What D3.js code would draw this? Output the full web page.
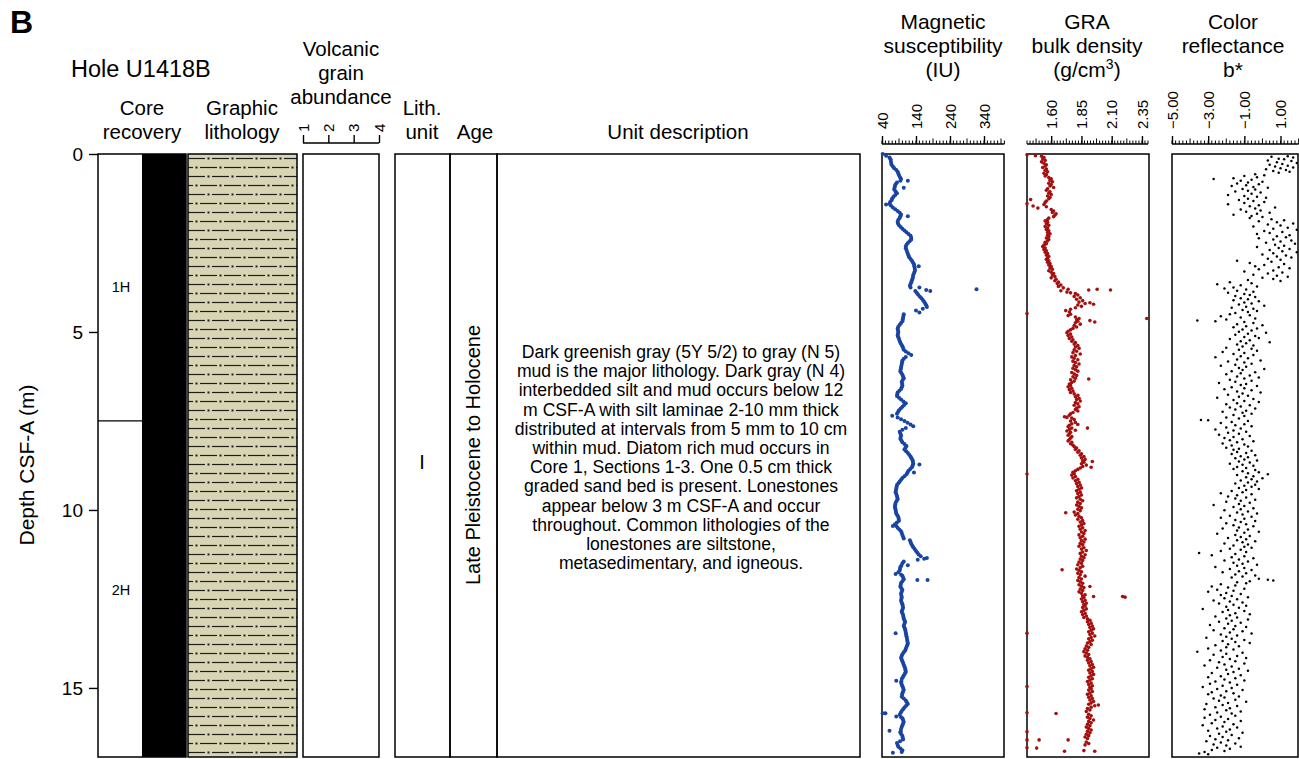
<!DOCTYPE html>
<html>
<head>
<meta charset="utf-8">
<script src="https://cdn.jsdelivr.net/npm/d3@7"></script>
<style>
  body { margin: 0; background: #fff; }
  svg { display: block; font-family: "Liberation Sans", Arial, Helvetica, sans-serif; }
</style>
</head>
<body>
<svg id="chart" width="1299" height="759"></svg>
<script>
// ---- data (depth in m CSF-A) ----
const holeName = "Hole U1418B";
const depthTicks = [0, 5, 10, 15];
const coreNames = ["1H", "2H"];
const coreTops = [0, 7.5];
const coreBottoms = [7.5, 17.0];
const volcanicTicks = [1, 2, 3, 4];
const lithUnit = "I";
const ageText = "Late Pleistocene to Holocene";
const unitDescription = [
  "Dark greenish gray (5Y 5/2) to gray (N 5)",
  "mud is the major lithology. Dark gray (N 4)",
  "interbedded silt and mud occurs below 12",
  "m CSF-A with silt laminae 2-10 mm thick",
  "distributed at intervals from 5 mm to 10 cm",
  "within mud. Diatom rich mud occurs in",
  "Core 1, Sections 1-3. One 0.5 cm thick",
  "graded sand bed is present. Lonestones",
  "appear below 3 m CSF-A and occur",
  "throughout. Common lithologies of the",
  "lonestones are siltstone,",
  "metasedimentary, and igneous."
];

const magTicks = [40, 140, 240, 340];
const graTicks = [1.60, 1.85, 2.10, 2.35];
const colorTicks = [-5, -3, -1, 1];

// magnetic susceptibility [depth, IU]
const magSus = [[0.00,42],[0.05,52],[0.10,62],[0.15,65],[0.20,66],[0.25,67],[0.30,68],[0.35,72],[0.40,76],[0.45,82],
[0.50,86],[0.55,88],[0.60,90],[0.65,93],[0.70,96],[0.75,116],[0.75,94],[0.80,84],[0.85,80],[0.90,78],[0.95,104],
[0.95,77],[1.00,76],[1.05,80],[1.10,84],[1.15,79],[1.20,74],[1.25,70],[1.30,68],[1.35,64],[1.40,62],[1.42,52],
[1.45,66],[1.50,72],[1.55,79],[1.60,86],[1.65,92],[1.70,96],[1.75,116],[1.75,94],[1.80,92],[1.85,88],[1.90,86],
[1.95,87],[2.00,90],[2.05,95],[2.10,100],[2.15,106],[2.20,112],[2.25,118],[2.30,124],[2.35,126],[2.40,126],[2.45,121],
[2.50,116],[2.55,112],[2.60,110],[2.65,110],[2.70,112],[2.75,114],[2.80,116],[2.85,118],[2.90,120],[2.95,124],
[3.00,128],[3.05,131],[3.10,134],[3.15,148],[3.15,135],[3.20,136],[3.25,137],[3.30,136],[3.35,134],[3.40,132],
[3.45,131],[3.50,130],[3.55,128],[3.60,126],[3.65,124],[3.70,122],[3.75,150],[3.75,124],[3.80,318],[3.82,170],
[3.85,182],[3.85,138],[3.90,142],[3.95,146],[4.00,151],[4.05,156],[4.10,160],[4.15,164],[4.20,167],[4.25,170],
[4.30,172],[4.35,160],[4.40,140],[4.45,150],[4.50,104],[4.55,103],[4.60,102],[4.65,101],[4.70,100],[4.75,96],
[4.80,92],[4.85,88],[4.90,86],[4.95,87],[5.00,88],[5.05,87],[5.10,86],[5.15,88],[5.20,90],[5.25,92],[5.30,94],
[5.35,97],[5.40,100],[5.45,102],[5.50,104],[5.55,110],[5.60,118],[5.65,126],[5.70,110],[5.75,104],[5.80,100],
[5.85,99],[5.90,98],[5.95,97],[6.00,96],[6.05,95],[6.10,94],[6.15,97],[6.20,100],[6.25,102],[6.30,104],[6.35,101],
[6.40,98],[6.45,99],[6.50,100],[6.55,98],[6.60,96],[6.65,91],[6.70,86],[6.75,85],[6.80,84],[6.85,90],[6.90,96],
[6.95,103],[7.00,110],[7.05,105],[7.10,100],[7.15,95],[7.20,90],[7.25,87],[7.30,84],[7.35,70],[7.40,86],[7.45,96],
[7.50,106],[7.55,115],[7.60,124],[7.65,132],[7.70,110],[7.75,100],[7.80,92],[7.85,94],[7.90,96],[7.95,95],[8.00,94],
[8.05,97],[8.10,100],[8.15,106],[8.20,112],[8.25,109],[8.30,106],[8.35,111],[8.40,116],[8.45,120],[8.50,124],
[8.55,127],[8.60,130],[8.65,131],[8.70,132],[8.72,150],[8.75,130],[8.80,128],[8.85,123],[8.90,118],[8.95,134],
[8.95,115],[9.00,112],[9.05,106],[9.10,100],[9.15,96],[9.20,92],[9.25,88],[9.30,84],[9.35,83],[9.40,82],[9.45,81],
[9.50,80],[9.55,82],[9.60,84],[9.65,85],[9.70,86],[9.75,83],[9.80,80],[9.85,79],[9.90,78],[9.95,79],[10.00,80],
[10.05,81],[10.10,82],[10.15,85],[10.20,88],[10.25,89],[10.30,90],[10.35,84],[10.40,78],[10.45,72],[10.45,82],
[10.50,86],[10.55,91],[10.60,96],[10.65,98],[10.70,100],[10.75,102],[10.80,104],[10.85,122],[10.90,124],[10.95,126],
[11.00,129],[11.05,132],[11.10,136],[11.15,140],[11.20,144],[11.25,148],[11.30,154],[11.35,172],[11.37,164],
[11.40,145],[11.45,104],[11.50,100],[11.55,116],[11.57,97],[11.60,94],[11.65,93],[11.70,92],[11.75,88],[11.80,80],
[11.82,96],[11.85,100],[11.90,102],[11.95,104],[11.97,144],[11.97,174],[12.00,100],[12.05,96],[12.10,95],[12.15,94],
[12.20,97],[12.25,100],[12.30,98],[12.35,96],[12.40,97],[12.45,98],[12.50,97],[12.55,96],[12.60,98],[12.65,100],
[12.70,101],[12.75,102],[12.80,100],[12.85,98],[12.90,100],[12.95,102],[13.00,103],[13.05,104],[13.10,106],
[13.15,108],[13.20,106],[13.25,104],[13.30,106],[13.35,108],[13.40,109],[13.45,110],[13.46,80],[13.50,111],
[13.55,112],[13.60,113],[13.65,114],[13.70,115],[13.75,116],[13.80,114],[13.85,112],[13.90,110],[13.95,108],
[14.00,104],[14.05,100],[14.10,98],[14.15,96],[14.20,98],[14.25,100],[14.30,102],[14.35,104],[14.40,106],[14.45,108],
[14.50,109],[14.55,110],[14.60,107],[14.65,104],[14.70,101],[14.75,98],[14.80,82],[14.82,97],[14.85,96],[14.90,98],
[14.95,100],[15.00,102],[15.05,104],[15.10,102],[15.15,100],[15.20,99],[15.25,98],[15.30,104],[15.35,110],[15.40,113],
[15.45,116],[15.50,111],[15.55,106],[15.60,102],[15.65,98],[15.70,95],[15.71,50],[15.71,42],[15.75,92],[15.80,82],
[15.82,96],[15.85,100],[15.90,102],[15.95,104],[16.00,102],[16.05,100],[16.10,98],[16.15,96],[16.20,62],[16.22,95],
[16.25,94],[16.30,97],[16.35,100],[16.40,101],[16.45,102],[16.50,93],[16.55,84],[16.60,86],[16.65,88],[16.70,94],
[16.75,100],[16.80,98],[16.82,72]];

// GRA bulk density [depth, g/cm3]
const graDensity = [[0.02,1.40],[0.05,1.47],[0.06,1.52],[0.10,1.54],[0.14,1.53],[0.18,1.55],[0.22,1.52],[0.26,1.54],
[0.30,1.56],[0.34,1.55],[0.38,1.53],[0.42,1.56],[0.46,1.55],[0.50,1.57],[0.54,1.54],[0.58,1.56],[0.62,1.55],[0.66,1.58],
[0.70,1.60],[0.74,1.59],[0.78,1.61],[0.82,1.58],[0.86,1.60],[0.90,1.59],[0.94,1.62],[0.98,1.57],[1.02,1.56],[1.06,1.59],
[1.10,1.58],[1.14,1.60],[1.18,1.57],[1.22,1.59],[1.26,1.58],[1.28,1.43],[1.32,1.56],[1.36,1.55],[1.40,1.40],[1.42,1.54],
[1.46,1.45],[1.48,1.56],[1.52,1.49],[1.56,1.60],[1.60,1.62],[1.64,1.61],[1.68,1.64],[1.72,1.63],[1.76,1.62],[1.80,1.58],
[1.84,1.57],[1.88,1.55],[1.92,1.57],[1.96,1.56],[2.00,1.58],[2.04,1.55],[2.08,1.57],[2.12,1.56],[2.16,1.58],[2.20,1.57],
[2.24,1.59],[2.28,1.57],[2.32,1.58],[2.36,1.56],[2.40,1.58],[2.44,1.57],[2.48,1.55],[2.52,1.56],[2.56,1.54],[2.60,1.53],
[2.64,1.55],[2.68,1.54],[2.72,1.56],[2.76,1.55],[2.80,1.57],[2.84,1.56],[2.88,1.58],[2.92,1.57],[2.96,1.56],[3.00,1.58],
[3.04,1.57],[3.08,1.59],[3.12,1.58],[3.16,1.60],[3.20,1.59],[3.24,1.61],[3.28,1.58],[3.32,1.60],[3.36,1.62],[3.40,1.61],
[3.44,1.63],[3.48,1.60],[3.52,1.64],[3.56,1.63],[3.60,1.66],[3.64,1.65],[3.68,1.68],[3.72,1.66],[3.76,1.70],[3.80,1.74],
[3.82,1.91],[3.80,1.98],[3.82,2.09],[3.84,1.68],[3.88,1.73],[3.90,1.76],[3.92,1.80],[3.96,1.82],[4.00,1.79],[4.04,1.84],
[4.08,1.81],[4.12,1.86],[4.16,1.83],[4.18,1.92],[4.20,1.88],[4.22,1.95],[4.24,1.82],[4.28,1.85],[4.32,1.80],[4.36,1.76],
[4.40,1.72],[4.44,1.75],[4.48,1.40],[4.50,1.76],[4.54,1.74],[4.58,1.80],[4.62,1.83],[4.62,2.39],[4.66,1.81],[4.68,1.92],
[4.70,1.82],[4.72,1.96],[4.74,1.80],[4.78,1.84],[4.82,1.79],[4.86,1.81],[4.90,1.78],[4.94,1.76],[4.98,1.74],[5.02,1.73],
[5.06,1.76],[5.10,1.74],[5.14,1.77],[5.18,1.75],[5.22,1.78],[5.26,1.77],[5.30,1.80],[5.34,1.79],[5.38,1.82],[5.42,1.80],
[5.46,1.83],[5.50,1.79],[5.54,1.81],[5.58,1.78],[5.62,1.84],[5.66,1.80],[5.70,1.77],[5.74,1.79],[5.78,1.82],[5.82,1.78],
[5.86,1.80],[5.90,1.83],[5.94,1.79],[5.98,1.81],[6.02,1.78],[6.06,1.80],[6.10,1.82],[6.14,1.77],[6.18,1.79],[6.22,1.81],
[6.26,1.78],[6.30,1.80],[6.32,1.91],[6.34,1.76],[6.38,1.79],[6.42,1.77],[6.46,1.75],[6.50,1.76],[6.54,1.74],[6.58,1.77],
[6.62,1.75],[6.66,1.78],[6.70,1.76],[6.74,1.79],[6.78,1.82],[6.82,1.80],[6.86,1.83],[6.90,1.81],[6.94,1.84],[6.98,1.80],
[7.02,1.82],[7.06,1.79],[7.10,1.83],[7.14,1.81],[7.18,1.80],[7.22,1.82],[7.26,1.78],[7.30,1.76],[7.34,1.75],[7.38,1.71],
[7.40,1.73],[7.42,1.77],[7.46,1.79],[7.50,1.76],[7.54,1.80],[7.58,1.77],[7.60,1.82],[7.62,1.75],[7.66,1.74],[7.70,1.77],
[7.70,1.90],[7.74,1.75],[7.76,1.80],[7.78,1.73],[7.82,1.76],[7.86,1.75],[7.90,1.74],[7.94,1.77],[7.98,1.76],[8.02,1.75],
[8.06,1.74],[8.10,1.77],[8.14,1.76],[8.18,1.78],[8.22,1.79],[8.26,1.81],[8.30,1.80],[8.34,1.83],[8.38,1.82],[8.42,1.85],
[8.46,1.84],[8.50,1.87],[8.54,1.85],[8.58,1.88],[8.62,1.86],[8.64,1.94],[8.66,1.87],[8.70,1.85],[8.74,1.89],[8.78,1.86],
[8.80,1.93],[8.82,1.84],[8.86,1.82],[8.90,1.80],[8.94,1.78],[8.98,1.79],[8.99,1.40],[9.02,1.77],[9.06,1.80],[9.10,1.78],
[9.14,1.82],[9.18,1.80],[9.22,1.83],[9.26,1.81],[9.30,1.84],[9.34,1.82],[9.38,1.85],[9.42,1.83],[9.46,1.81],[9.50,1.84],
[9.54,1.82],[9.58,1.85],[9.62,1.83],[9.66,1.81],[9.70,1.84],[9.74,1.86],[9.78,1.82],[9.82,1.84],[9.86,1.81],[9.90,1.83],
[9.94,1.85],[9.98,1.82],[10.02,1.84],[10.06,1.79],[10.08,1.72],[10.10,1.82],[10.14,1.80],[10.18,1.83],[10.22,1.85],
[10.26,1.82],[10.30,1.86],[10.34,1.84],[10.38,1.87],[10.42,1.85],[10.46,1.83],[10.50,1.86],[10.54,1.84],[10.58,1.88],
[10.62,1.85],[10.66,1.87],[10.70,1.83],[10.74,1.86],[10.78,1.84],[10.82,1.88],[10.86,1.85],[10.90,1.87],[10.94,1.84],
[10.98,1.86],[11.02,1.83],[11.06,1.87],[11.10,1.85],[11.14,1.89],[11.18,1.86],[11.22,1.84],[11.26,1.88],[11.30,1.85],
[11.34,1.87],[11.38,1.84],[11.42,1.86],[11.46,1.83],[11.50,1.85],[11.54,1.82],[11.58,1.86],[11.62,1.84],[11.66,1.81],
[11.68,1.69],[11.70,1.83],[11.74,1.85],[11.78,1.82],[11.82,1.84],[11.86,1.88],[11.90,1.83],[11.94,1.85],[11.98,1.82],
[12.02,1.84],[12.06,1.86],[12.10,1.83],[12.14,1.85],[12.15,1.92],[12.18,1.87],[12.22,1.84],[12.26,1.86],[12.30,1.83],
[12.34,1.85],[12.38,1.88],[12.42,1.86],[12.43,1.95],[12.43,2.19],[12.45,2.21],[12.46,1.87],[12.50,1.85],[12.54,1.88],
[12.58,1.86],[12.62,1.89],[12.66,1.87],[12.70,1.88],[12.74,1.86],[12.78,1.89],[12.82,1.87],[12.86,1.85],[12.90,1.88],
[12.94,1.86],[12.98,1.89],[13.02,1.87],[13.06,1.90],[13.10,1.92],[13.14,1.90],[13.18,1.93],[13.22,1.91],[13.26,1.94],
[13.30,1.92],[13.34,1.95],[13.38,1.93],[13.42,1.91],[13.46,1.40],[13.46,1.94],[13.50,1.92],[13.54,1.96],[13.58,1.93],
[13.62,1.91],[13.66,1.94],[13.70,1.92],[13.74,1.90],[13.78,1.93],[13.82,1.89],[13.86,1.91],[13.90,1.88],[13.94,1.90],
[13.98,1.87],[14.02,1.89],[14.06,1.91],[14.10,1.88],[14.14,1.90],[14.18,1.92],[14.22,1.90],[14.26,1.93],[14.30,1.91],
[14.34,1.94],[14.38,1.92],[14.42,1.95],[14.46,1.93],[14.50,1.91],[14.54,1.94],[14.58,1.92],[14.62,1.95],[14.66,1.93],
[14.70,1.91],[14.74,1.94],[14.78,1.92],[14.82,1.90],[14.86,1.93],[14.90,1.91],[14.94,1.94],[14.96,1.40],[14.98,1.92],
[15.02,1.93],[15.06,1.91],[15.10,1.94],[15.14,1.92],[15.18,1.90],[15.22,1.93],[15.26,1.91],[15.30,1.94],[15.34,1.92],
[15.38,1.95],[15.42,1.93],[15.46,1.91],[15.48,1.99],[15.50,1.96],[15.54,1.93],[15.58,1.90],[15.62,1.92],[15.66,1.89],
[15.70,1.40],[15.72,1.64],[15.74,1.91],[15.78,1.93],[15.82,1.90],[15.86,1.92],[15.90,1.95],[15.94,1.91],[15.98,1.93],
[16.02,1.90],[16.06,1.92],[16.10,1.89],[16.14,1.91],[16.18,1.93],[16.22,1.90],[16.23,1.40],[16.26,1.92],[16.30,1.89],
[16.34,1.91],[16.38,1.88],[16.42,1.90],[16.46,1.40],[16.46,1.50],[16.46,1.74],[16.52,1.89],[16.56,1.91],[16.60,1.88],
[16.68,1.40],[16.69,1.48],[16.78,1.71],[16.76,1.87],[16.78,1.96]];

// color reflectance b* [depth, b*]
const colorB = [[0.06,1.4],[0.08,0.5],[0.10,1.7],[0.13,0.9],[0.15,1.2],[0.18,0.3],[0.20,1.6],[0.23,0.8],[0.25,1.9],
[0.28,1.1],[0.30,0.4],[0.33,1.4],[0.35,0.7],[0.38,1.7],[0.40,1.0],[0.43,0.2],[0.45,1.3],[0.48,0.6],[0.50,1.5],[0.53,0.9],
[0.57,-0.4],[0.60,0.1],[0.62,-1.0],[0.65,-0.3],[0.68,-1.6],[0.70,-2.7],[0.72,-0.6],[0.75,-1.2],[0.78,0.0],[0.80,-0.8],
[0.83,-1.4],[0.85,-0.2],[0.88,-0.9],[0.90,-1.7],[0.93,-0.5],[0.95,0.3],[0.98,-1.1],[1.00,-0.4],[1.03,-0.8],[1.05,-1.5],
[1.08,-0.1],[1.12,-0.6],[1.15,-1.9],[1.18,-1.0],[1.20,-0.3],[1.23,0.2],[1.26,-0.8],[1.29,-1.3],[1.32,-0.5],[1.35,0.1],
[1.38,-1.0],[1.41,-1.9],[1.44,-0.2],[1.47,-0.7],[1.50,0.7],[1.53,-0.4],[1.56,-1.2],[1.59,-0.1],[1.62,-0.9],[1.65,0.4],
[1.68,-0.3],[1.71,-1.6],[1.74,-0.6],[1.77,0.0],[1.80,-0.7],[1.83,0.5],[1.86,1.2],[1.89,-0.2],[1.92,0.8],[1.95,1.7],
[1.98,0.3],[2.01,1.0],[2.04,-0.5],[2.07,1.4],[2.10,0.6],[2.13,1.9],[2.16,0.1],[2.19,1.1],[2.22,0.4],[2.25,-0.3],[2.28,1.5],
[2.31,0.8],[2.34,1.3],[2.37,-0.2],[2.40,0.6],[2.43,1.6],[2.46,1.0],[2.49,0.2],[2.52,1.8],[2.55,0.7],[2.58,1.2],[2.61,-0.3],
[2.64,0.9],[2.67,1.5],[2.70,0.4],[2.73,1.1],[2.76,1.9],[2.79,0.6],[2.82,0.0],[2.85,1.3],[2.88,0.8],[2.91,1.6],[2.94,0.3],
[2.97,1.0],[3.00,-1.4],[3.03,0.5],[3.06,-0.7],[3.09,1.2],[3.12,0.1],[3.15,-0.4],[3.18,0.9],[3.21,1.5],[3.24,-0.2],
[3.27,0.6],[3.30,-1.0],[3.33,1.1],[3.36,0.3],[3.39,-0.5],[3.42,0.8],[3.45,1.4],[3.48,0.0],[3.51,0.6],[3.54,-0.8],[3.57,1.0],
[3.60,-1.8],[3.63,-0.6],[3.66,-2.5],[3.69,-1.2],[3.72,-0.3],[3.75,-1.6],[3.78,-2.1],[3.81,-0.9],[3.84,-1.4],[3.87,-0.5],
[3.90,-1.9],[3.93,-1.0],[3.96,-0.7],[3.99,-1.5],[4.02,-0.4],[4.05,-1.2],[4.08,-0.8],[4.11,-1.6],[4.14,-0.2],[4.17,-1.0],
[4.20,-0.6],[4.23,-1.3],[4.26,0.1],[4.29,-0.9],[4.32,-1.7],[4.35,-0.5],[4.38,-1.1],[4.41,-0.3],[4.44,-0.8],[4.47,-1.5],
[4.50,-1.8],[4.53,-0.7],[4.56,-2.3],[4.59,-1.2],[4.62,-0.4],[4.65,-2.0],[4.68,-3.6],[4.70,-2.6],[4.72,-1.0],[4.75,-0.5],
[4.78,-1.4],[4.81,0.0],[4.84,-0.9],[4.87,-1.6],[4.90,-0.3],[4.93,-1.1],[4.96,-0.6],[4.99,-1.3],[5.02,0.2],[5.05,-0.8],
[5.08,-1.5],[5.11,-0.4],[5.14,-1.0],[5.17,-0.2],[5.20,-1.8],[5.23,-0.7],[5.26,-1.2],[5.29,0.4],[5.32,-0.9],[5.35,-1.4],
[5.38,-0.5],[5.41,-1.1],[5.44,-2.0],[5.47,-0.6],[5.50,-1.3],[5.53,-0.3],[5.56,-2.2],[5.59,-1.0],[5.62,-1.6],[5.65,-0.5],
[5.68,-1.2],[5.71,-2.6],[5.74,-0.8],[5.77,-1.4],[5.80,-0.1],[5.83,-1.9],[5.86,-1.0],[5.89,-0.6],[5.92,-1.5],[5.95,-2.3],
[5.98,-0.9],[6.01,-1.3],[6.04,0.1],[6.07,-1.1],[6.10,-1.7],[6.13,-0.4],[6.16,-1.2],[6.19,-2.0],[6.22,-0.7],[6.25,-1.4],
[6.28,-0.2],[6.31,-1.0],[6.34,-1.8],[6.37,-0.6],[6.40,-1.5],[6.43,-2.4],[6.46,-0.9],[6.49,-1.2],[6.52,-0.3],[6.55,-1.7],
[6.58,-1.0],[6.61,-2.1],[6.64,-0.6],[6.67,-1.4],[6.70,-0.1],[6.73,-1.1],[6.76,-1.9],[6.79,-0.8],[6.82,-1.3],[6.85,-2.5],
[6.88,-0.5],[6.91,-1.6],[6.94,-1.0],[6.97,-0.2],[7.00,-1.4],[7.03,-2.0],[7.06,-0.7],[7.09,-1.2],[7.12,-1.8],[7.15,-0.4],
[7.18,-1.5],[7.21,-0.9],[7.24,-2.2],[7.27,-1.1],[7.30,-0.6],[7.33,-1.6],[7.36,-1.0],[7.40,-2.0],[7.43,-1.3],[7.47,-3.4],
[7.48,-3.0],[7.50,-0.8],[7.53,-1.7],[7.56,-2.3],[7.59,-1.0],[7.62,-1.5],[7.65,-0.6],[7.68,-2.0],[7.71,-1.2],[7.74,-2.6],
[7.77,-1.6],[7.80,-0.9],[7.83,-1.9],[7.86,-1.3],[7.89,-2.4],[7.92,-0.7],[7.95,-1.6],[7.98,-2.1],[8.01,-1.1],[8.04,-1.8],
[8.07,-0.5],[8.10,-1.4],[8.13,-2.2],[8.16,-1.0],[8.19,-1.7],[8.22,-0.8],[8.25,-2.0],[8.28,-1.3],[8.31,-1.6],[8.34,-0.6],
[8.37,-1.4],[8.40,-0.9],[8.43,-1.7],[8.46,-0.4],[8.49,-1.2],[8.52,-0.8],[8.55,-1.5],[8.58,-1.0],[8.61,-0.3],[8.64,-1.3],
[8.67,-0.7],[8.70,-1.8],[8.73,-1.1],[8.76,-0.5],[8.79,-1.4],[8.82,-0.9],[8.85,-1.6],[8.88,-0.4],[8.91,-1.1],[8.94,-0.2],
[8.97,-0.8],[9.00,0.3],[9.02,-1.4],[9.05,-0.5],[9.08,-0.9],[9.11,0.0],[9.14,-0.6],[9.17,-1.2],[9.20,-0.3],[9.23,-0.8],
[9.26,-1.5],[9.29,-0.4],[9.32,-1.0],[9.35,-0.6],[9.38,-1.3],[9.41,-0.2],[9.44,-0.9],[9.47,-1.7],[9.50,-1.1],[9.53,-2.3],
[9.56,-0.6],[9.59,-1.4],[9.62,-1.9],[9.65,-0.9],[9.68,-1.5],[9.71,-0.4],[9.74,-1.2],[9.77,-2.0],[9.80,-0.7],[9.83,-1.3],
[9.86,-2.7],[9.89,-1.0],[9.92,-1.6],[9.95,-0.5],[9.98,-1.2],[10.01,-2.1],[10.04,-0.8],[10.07,-1.4],[10.10,-0.3],
[10.13,-1.1],[10.16,-1.8],[10.19,-0.6],[10.22,-2.3],[10.25,-1.0],[10.28,-1.5],[10.31,-0.4],[10.34,-1.2],[10.37,-2.0],
[10.40,-0.9],[10.43,-1.6],[10.46,-0.5],[10.49,-1.3],[10.52,-2.2],[10.55,-0.8],[10.58,-1.4],[10.61,-0.2],[10.64,-1.0],
[10.67,-2.5],[10.70,-1.5],[10.73,-0.7],[10.76,-1.2],[10.79,-1.9],[10.82,-0.9],[10.85,-1.4],[10.88,-0.4],[10.91,-1.1],
[10.94,-2.1],[10.97,-0.8],[11.00,-1.6],[11.03,-1.0],[11.06,-0.6],[11.09,-1.8],[11.12,-1.2],[11.15,-2.3],[11.18,-0.9],
[11.21,-3.5],[11.24,-1.5],[11.27,-2.8],[11.30,-1.0],[11.33,-1.7],[11.36,-0.5],[11.39,-1.3],[11.42,-2.1],[11.45,-0.8],
[11.48,-1.6],[11.51,-1.1],[11.54,-0.3],[11.57,-1.4],[11.60,-2.6],[11.63,-1.0],[11.66,-1.8],[11.69,-0.6],[11.72,-1.3],
[11.75,-2.2],[11.78,-0.9],[11.81,-1.5],[11.84,-0.4],[11.87,-1.1],[11.90,-1.7],[11.93,-0.2],[11.96,0.3],[11.98,0.6],
[12.00,-0.7],[12.03,-1.4],[12.06,-0.9],[12.09,-2.3],[12.12,-1.5],[12.15,-2.8],[12.18,-1.9],[12.21,-1.0],[12.24,-2.5],
[12.27,-1.6],[12.30,-3.0],[12.33,-2.0],[12.36,-1.2],[12.39,-2.3],[12.42,-1.7],[12.45,-0.8],[12.48,-2.1],[12.51,-1.4],
[12.54,-2.7],[12.57,-1.8],[12.60,-1.1],[12.63,-2.4],[12.66,-1.6],[12.69,-0.9],[12.72,-2.0],[12.75,-1.3],[12.78,-3.3],
[12.81,-1.9],[12.84,-1.0],[12.87,-2.2],[12.90,-1.5],[12.93,-0.7],[12.96,-1.8],[12.99,-2.6],[13.02,-1.4],[13.05,-2.0],
[13.08,-0.8],[13.11,-1.7],[13.14,-2.4],[13.17,-1.2],[13.20,-1.9],[13.23,-2.9],[13.26,-1.5],[13.29,-0.9],[13.32,-2.1],
[13.35,-1.6],[13.38,-2.7],[13.41,-1.1],[13.44,-1.8],[13.47,-0.6],[13.50,-2.3],[13.53,-1.4],[13.56,-2.0],[13.59,-3.1],
[13.62,-1.7],[13.65,-1.0],[13.68,-2.2],[13.71,-1.5],[13.74,-0.7],[13.77,-1.9],[13.80,-2.6],[13.83,-1.3],[13.86,-2.0],
[13.89,-3.0],[13.92,-1.6],[13.95,-2.3],[13.98,-3.6],[14.01,-1.1],[14.04,-2.0],[14.07,-2.7],[14.10,-1.4],[14.13,-2.2],
[14.16,-0.9],[14.19,-1.8],[14.22,-2.9],[14.25,-1.5],[14.28,-2.4],[14.31,-1.0],[14.34,-2.1],[14.37,-3.2],[14.40,-1.7],
[14.43,-2.5],[14.46,-1.3],[14.49,-2.0],[14.52,-0.8],[14.55,-1.6],[14.58,-2.8],[14.61,-1.9],[14.64,-1.2],[14.67,-2.3],
[14.70,-3.0],[14.73,-1.5],[14.76,-2.1],[14.79,-1.0],[14.82,-2.6],[14.85,-1.8],[14.88,-2.9],[14.91,-1.4],[14.94,-2.2],
[14.97,-3.3],[15.00,-1.7],[15.03,-2.5],[15.06,-1.1],[15.09,-2.0],[15.12,-2.8],[15.15,-1.6],[15.18,-3.0],[15.21,-2.3],
[15.24,-1.3],[15.27,-2.1],[15.30,-2.7],[15.33,-1.5],[15.36,-2.4],[15.39,-0.9],[15.42,-1.9],[15.45,-3.1],[15.48,-2.2],
[15.51,-1.4],[15.54,-2.6],[15.57,-1.8],[15.60,-3.2],[15.63,-2.0],[15.66,-1.2],[15.69,-2.5],[15.72,-1.7],[15.75,-2.9],
[15.78,-1.5],[15.81,-2.3],[15.84,-3.2],[15.87,-1.9],[15.90,-2.6],[15.93,-1.2],[15.96,-2.1],[15.99,-2.8],[16.02,-1.6],
[16.05,-3.3],[16.08,-2.2],[16.11,-1.4],[16.14,-2.5],[16.17,-1.8],[16.20,-3.0],[16.23,-2.0],[16.26,-1.1],[16.29,-2.4],
[16.32,-1.7],[16.35,-2.9],[16.38,-2.2],[16.41,-1.3],[16.44,-2.6],[16.47,-1.9],[16.50,-3.1],[16.53,-2.3],[16.56,-1.5],
[16.59,-2.7],[16.62,-2.0],[16.65,-1.2],[16.68,-2.5],[16.71,-1.8],[16.74,-2.8],[16.77,-2.1],[16.80,-3.2],[16.84,-3.5],
[16.86,-3.0]];

// ---- drawing ----
const svg = d3.select("#chart");
const yTop = 154, yBot = 757;
const y = d3.scaleLinear().domain([0, 16.94]).range([yTop, yBot]);

const xMag = d3.scaleLinear().domain([40, 400]).range([882, 1004.4]);
const xGra = d3.scaleLinear().domain([1.4, 2.4]).range([1027, 1148]);
const xCol = d3.scaleLinear().domain([-5, 2]).range([1172, 1298.6]);
const xVol = d3.scaleLinear().domain([1, 4]).range([303, 379]);

// lithology pattern (silty mud: dashes and dots)
const defs = svg.append("defs");
const pat = defs.append("pattern").attr("id", "mud").attr("patternUnits", "userSpaceOnUse")
  .attr("x", 188).attr("y", yTop).attr("width", 24).attr("height", 18);
pat.append("rect").attr("width", 24).attr("height", 18).attr("fill", "#d7d5b3");
pat.append("line").attr("x1", 0).attr("x2", 17).attr("y1", 4.5).attr("y2", 4.5);
pat.append("rect").attr("x", 19.5).attr("y", 3.5).attr("width", 2).attr("height", 2);
pat.append("line").attr("x1", 12).attr("x2", 24).attr("y1", 13.5).attr("y2", 13.5);
pat.append("line").attr("x1", 0).attr("x2", 5).attr("y1", 13.5).attr("y2", 13.5);
pat.append("rect").attr("x", 7.5).attr("y", 12.5).attr("width", 2).attr("height", 2);
pat.selectAll("line").attr("stroke", "#1e1e1e").attr("stroke-width", 1.2);
pat.selectAll("rect:not(:first-child)").attr("fill", "#1e1e1e");

function box(x0, x1, fill) {
  svg.append("rect")
    .attr("x", x0).attr("y", yTop)
    .attr("width", x1 - x0).attr("height", yBot - yTop)
    .attr("fill", fill || "none")
    .attr("stroke", "#000").attr("stroke-width", 1.5);
}

function header(cx, lines, lastBaseline, size) {
  const t = svg.append("text").attr("text-anchor", "middle").attr("font-size", size || 20.5);
  lines.forEach((ln, i) => {
    t.append("tspan").attr("x", cx)
      .attr("y", lastBaseline - (lines.length - 1 - i) * 24)
      .text(ln);
  });
  return t;
}

// title
svg.append("text").attr("x", 10).attr("y", 33).attr("font-size", 32).attr("font-weight", "bold").text("B");
svg.append("text").attr("x", 71).attr("y", 77).attr("font-size", 23.5).text(holeName);

// column headers
header(142, ["Core", "recovery"], 139);
header(242, ["Graphic", "lithology"], 139);
header(341, ["Volcanic", "grain", "abundance"], 104);
header(422, ["Lith.", "unit"], 139);
header(475, ["Age"], 139);
header(678, ["Unit description"], 139);
header(943, ["Magnetic", "susceptibility", "(IU)"], 77, 21);
header(1233, ["Color", "reflectance", "b*"], 77, 21);
header(1087, ["GRA", "bulk density"], 53, 21);
const t3 = svg.append("text").attr("text-anchor", "middle").attr("font-size", 21).attr("x", 1087).attr("y", 77);
t3.append("tspan").text("(g/cm");
t3.append("tspan").attr("font-size", 14).attr("dy", -8).text("3");
t3.append("tspan").attr("dy", 8).text(")");

// core recovery
box(98, 186, "#fff");
svg.append("rect").attr("x", 142).attr("y", yTop).attr("width", 44).attr("height", yBot - yTop).attr("fill", "#000");
coreTops.forEach((t, i) => {
  if (i > 0) {
    svg.append("line").attr("x1", 98).attr("x2", 142).attr("y1", y(t)).attr("y2", y(t))
      .attr("stroke", "#000").attr("stroke-width", 1.2);
  }
  svg.append("text").attr("x", 121).attr("y", y((t + coreBottoms[i]) / 2) + 5)
    .attr("text-anchor", "middle").attr("font-size", 14.5).text(coreNames[i]);
});

// graphic lithology
box(188, 297, "url(#mud)");

// volcanic grain abundance
box(303, 379);
const volAxis = svg.append("g").attr("transform", "translate(0,143)")
  .call(d3.axisTop(xVol).tickValues(volcanicTicks).tickSize(8).tickFormat(d3.format("d")));
volAxis.select(".domain").attr("d", `M303,0H379`).attr("stroke-width", 1.4);
volAxis.selectAll(".tick line").attr("stroke-width", 1.4);
volAxis.selectAll(".tick text").attr("font-size", 15).attr("font-family", null)
  .attr("y", 0).attr("dy", "0.35em").style("text-anchor", "start")
  .attr("transform", "translate(0,-11) rotate(-90)");

// lith unit / age / description
box(395, 450);
box(450, 497);
box(497, 860);
svg.append("text").attr("x", 422).attr("y", 469).attr("text-anchor", "middle").attr("font-size", 20).text(lithUnit);
svg.append("text").attr("transform", "translate(480,455) rotate(-90)").attr("text-anchor", "middle")
  .attr("font-size", 20).text(ageText);
const desc = svg.append("text").attr("text-anchor", "middle").attr("font-size", 17.6);
unitDescription.forEach((ln, i) => {
  desc.append("tspan").attr("x", 681).attr("y", 358 + i * 19.2).text(ln);
});

// depth axis
const yAxisG = svg.append("g").attr("transform", "translate(98,0)")
  .call(d3.axisLeft(y).tickValues(depthTicks).tickSize(9).tickPadding(6));
yAxisG.select(".domain").remove();
yAxisG.selectAll(".tick line").attr("stroke-width", 1.4);
yAxisG.selectAll(".tick text").attr("font-size", 19).attr("font-family", null);
svg.append("text").attr("transform", "translate(34,465) rotate(-90)").attr("text-anchor", "middle")
  .attr("font-size", 21).text("Depth CSF-A (m)");

// top axes for the logging panels
function logAxis(x, majors, step, fmt) {
  const [d0, d1] = x.domain();
  const r = x.range();
  const g = svg.append("g").attr("transform", "translate(0,144)");
  g.call(d3.axisTop(x).tickValues(majors).tickSize(8).tickFormat(fmt));
  g.select(".domain").attr("d", `M${r[0]},0H${r[1]}`).attr("stroke-width", 1.4);
  g.selectAll(".tick line").attr("stroke-width", 1.4);
  g.selectAll(".tick text").attr("font-size", 15).attr("font-family", null)
    .attr("y", 0).attr("dy", "0.35em").style("text-anchor", "start")
    .attr("transform", "translate(0,-15) rotate(-90)");
  const majorGap = majors[1] - majors[0];
  const minors = d3.range(d0, d1 + step / 2, step);
  g.selectAll(".minor").data(minors).join("line")
    .attr("class", "minor")
    .attr("x1", d => x(d)).attr("x2", d => x(d))
    .attr("y1", 0)
    .attr("y2", d => {
      const k = ((d - majors[0]) / majorGap % 1 + 1) % 1;
      return Math.abs(k - 0.5) < 1e-6 ? -5.5 : -3.5;
    })
    .attr("stroke", "#000").attr("stroke-width", 1);
}

box(882, 1004);
box(1027, 1149);
box(1172, 1298);
logAxis(xMag, magTicks, 10, d3.format("d"));
logAxis(xGra, graTicks, 0.025, d3.format(".2f"));
logAxis(xCol, colorTicks, 0.2, d3.format(".2f"));

// data points
svg.append("g").selectAll("circle").data(magSus).join("circle")
  .attr("cx", d => xMag(d[1])).attr("cy", d => y(d[0]))
  .attr("r", 2).attr("fill", "#1a44a2");

svg.append("g").selectAll("circle").data(graDensity).join("circle")
  .attr("cx", d => xGra(d[1])).attr("cy", d => y(d[0]))
  .attr("r", 1.8).attr("fill", "#a3100f");

svg.append("g").selectAll("circle").data(colorB).join("circle")
  .attr("cx", d => xCol(d[1])).attr("cy", d => y(d[0]))
  .attr("r", 1.25).attr("fill", "#000");
</script>
</body>
</html>
